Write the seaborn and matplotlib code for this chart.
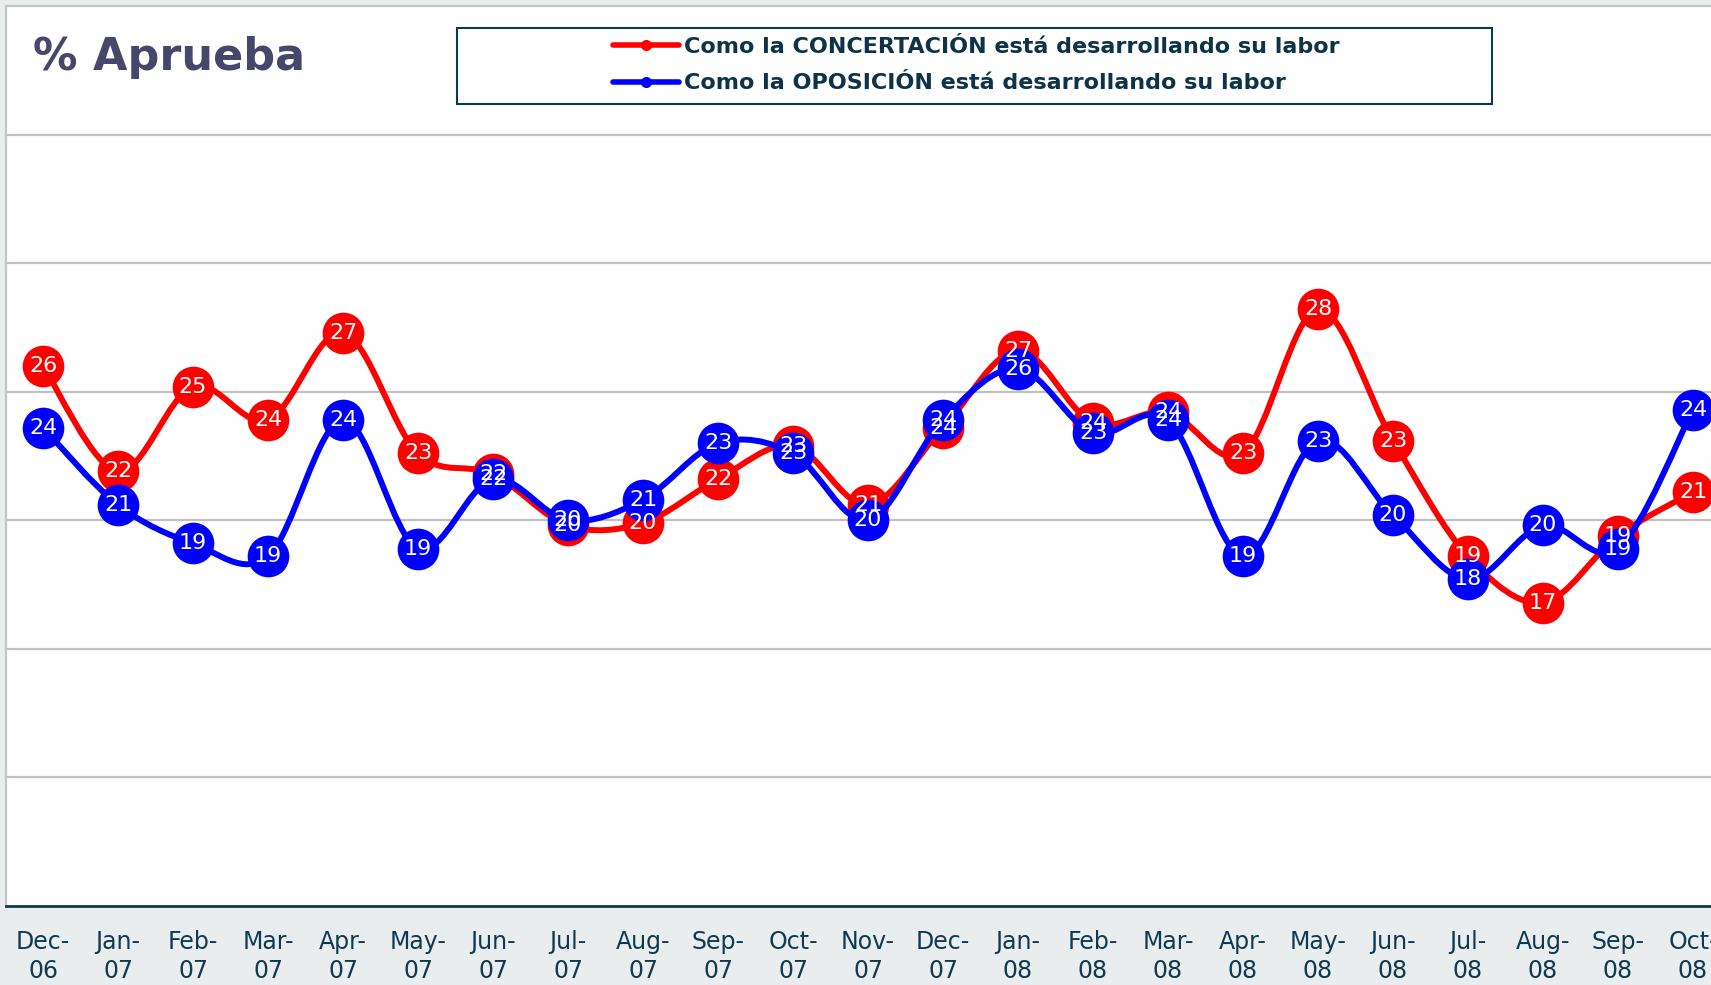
import numpy as np
import pandas as pd
import matplotlib
matplotlib.use('Agg')
import matplotlib.pyplot as plt
from matplotlib.path import Path
from matplotlib.patches import PathPatch, Rectangle
from matplotlib.lines import Line2D
import seaborn as sns

# Meses de la encuesta
meses = ['Dec-\n06', 'Jan-\n07', 'Feb-\n07', 'Mar-\n07', 'Apr-\n07', 'May-\n07',
         'Jun-\n07', 'Jul-\n07', 'Aug-\n07', 'Sep-\n07', 'Oct-\n07', 'Nov-\n07',
         'Dec-\n07', 'Jan-\n08', 'Feb-\n08', 'Mar-\n08', 'Apr-\n08', 'May-\n08',
         'Jun-\n08', 'Jul-\n08', 'Aug-\n08', 'Sep-\n08', 'Oct-\n08']

# % que aprueba la labor
concertacion = [26.0, 21.9, 25.2, 23.9, 27.3, 22.6, 21.8, 19.8, 19.9, 21.6, 22.9, 20.6,
                23.6, 26.6, 23.8, 24.2, 22.6, 28.2, 23.1, 18.6, 16.8, 19.4, 21.1]
oposicion = [23.6, 20.6, 19.1, 18.6, 23.9, 18.9, 21.6, 20.0, 20.8, 23.0, 22.6, 20.0,
             23.9, 25.9, 23.4, 23.9, 18.6, 23.1, 20.2, 17.7, 19.8, 18.9, 24.3]

lbl_conc = 'Como la CONCERTACIÓN está desarrollando su labor'
lbl_opo = 'Como la OPOSICIÓN está desarrollando su labor'

ROJO = '#FF0000'
AZUL = '#0000FF'
OSCURO = '#0E3A52'

df = pd.DataFrame({'pos': np.arange(len(meses)),
                   'mes': meses,
                   'conc': concertacion,
                   'opo': oposicion})


def curva_suave(xs, ys):
    # linea suavizada (bezier) entre los puntos, estilo Excel
    n = len(xs)
    pts = list(zip(xs, ys))
    verts = [pts[0]]
    codes = [Path.MOVETO]
    for i in range(n - 1):
        p0 = pts[max(i - 1, 0)]
        p1 = pts[i]
        p2 = pts[i + 1]
        p3 = pts[min(i + 2, n - 1)]
        c1 = (p1[0] + (p2[0] - p0[0]) / 6, p1[1] + (p2[1] - p0[1]) / 6)
        c2 = (p2[0] - (p3[0] - p1[0]) / 6, p2[1] - (p3[1] - p1[1]) / 6)
        verts += [c1, c2, p2]
        codes += [Path.CURVE4] * 3
    return Path(verts, codes)


sns.set_style('white')
plt.rcParams['font.family'] = ['DejaVu Sans']

W, H = 1711, 985
fig = plt.figure(figsize=(W / 100, H / 100), dpi=100, facecolor='#E9EDED')
ax = fig.add_axes([5.5 / W, 79 / H, 1725 / W, 900 / H])
ax.set_facecolor('white')

series = [('conc', ROJO, 2), ('opo', AZUL, 4)]
for col, color, z in series:
    ax.add_patch(PathPatch(curva_suave(df['pos'], df[col]), facecolor='none',
                           edgecolor=color, lw=4.3, zorder=z, capstyle='round',
                           joinstyle='round'))
    sns.scatterplot(data=df, x='pos', y=col, s=900, color=color, edgecolor=color,
                    linewidth=0, ax=ax, zorder=z + 0.5, legend=False)

# etiquetas de datos
for col, z in [('conc', 6), ('opo', 7)]:
    for i, v in zip(df['pos'], df[col]):
        ax.text(i, v, f'{v:.0f}', color='white', fontsize=16,
                ha='center', va='center', zorder=z)

ax.set_xlim(-0.5, 22.5)
ax.set_ylim(5, 40)
ax.set_xlabel('')
ax.set_ylabel('')

ax.set_xticks(df['pos'], meses, fontsize=17, color=OSCURO, linespacing=1.3)
ax.set_xticks(np.arange(-0.5, len(meses), 1), minor=True)
ax.tick_params(axis='x', which='major', length=0, pad=17)
ax.tick_params(axis='x', which='minor', length=6, width=1.5, color=OSCURO,
               direction='out')

ax.set_yticks(range(10, 40, 5))
ax.tick_params(axis='y', length=0, labelleft=False)
ax.yaxis.grid(True, color='#C0C0C0', lw=1.6)
ax.set_axisbelow(True)

for s in ['left', 'top']:
    ax.spines[s].set_color('#C4C4C4')
    ax.spines[s].set_linewidth(1.6)
ax.spines['right'].set_visible(False)
ax.spines['bottom'].set_color('#0F3A50')
ax.spines['bottom'].set_linewidth(2)

# titulo
fig.text(33 / W, 1 - 70 / H, '% Aprueba', fontsize=32, fontweight='bold',
         color='#47466B', va='baseline')

# leyenda con marco
fig.add_artist(Rectangle((457 / W, 1 - 104 / H), 1035 / W, 76 / H,
                         transform=fig.transFigure, fill=False,
                         edgecolor='#0B3A4F', lw=1.5))
handles = [Line2D([], [], color=ROJO, lw=4, marker='o', markersize=7),
           Line2D([], [], color=AZUL, lw=4, marker='o', markersize=7)]
fig.legend(handles, [lbl_conc, lbl_opo], loc='center',
           bbox_to_anchor=(976 / W, 1 - 65 / H), frameon=False,
           prop={'size': 16, 'weight': 'bold'}, labelcolor='#0D3349',
           handlelength=3, handletextpad=0.2, labelspacing=0.75, borderpad=0)

fig.savefig('out.png', dpi=100, facecolor=fig.get_facecolor())
plt.close()
